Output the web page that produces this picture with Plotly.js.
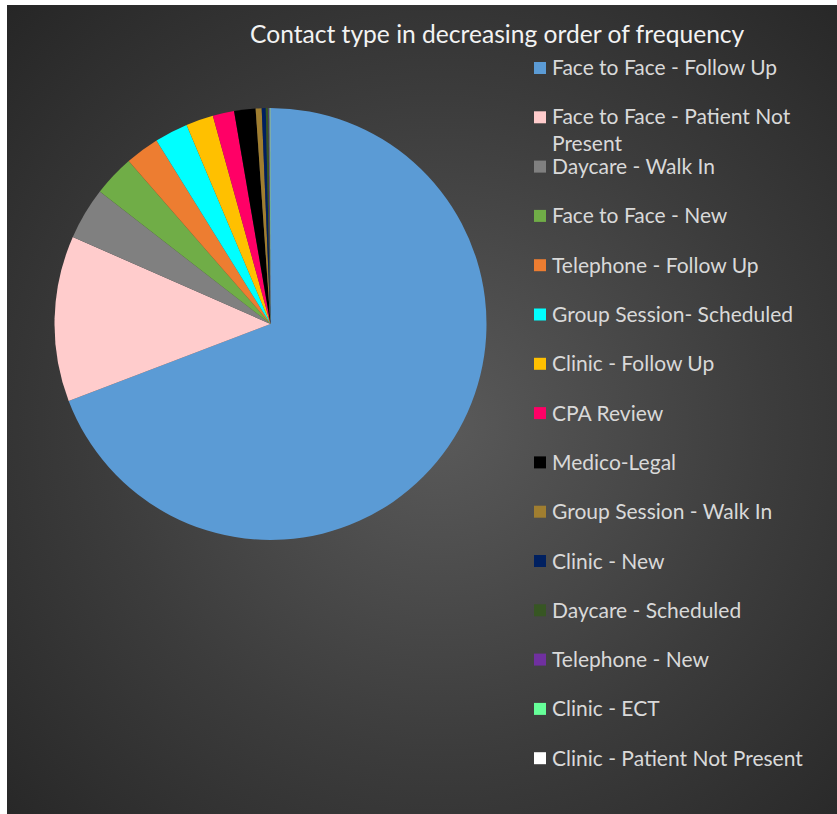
<!DOCTYPE html>
<html>
<head>
<meta charset="utf-8">
<script src="https://cdn.plot.ly/plotly-3.0.1.min.js"></script>
<style>
  html, body { margin: 0; padding: 0; background: #ffffff; }
  #bg { position: absolute; left: 7px; top: 5px; width: 830px; height: 809px;
        background: radial-gradient(ellipse farthest-corner at 52% 52%, #5a5a5a 0%, #3c3c3c 55%, #262626 100%); }
  #chart { position: absolute; left: 0; top: 0; width: 837px; height: 814px; }
</style>
</head>
<body>
<div id="bg"></div>
<div id="chart"></div>
<script>
// Categories (legend order = slice order, clockwise from 12 o'clock)
const labels = [
  "Face to Face - Follow Up",
  "Face to Face - Patient Not Present",
  "Daycare - Walk In",
  "Face to Face - New",
  "Telephone - Follow Up",
  "Group Session- Scheduled",
  "Clinic - Follow Up",
  "CPA Review",
  "Medico-Legal",
  "Group Session - Walk In",
  "Clinic - New",
  "Daycare - Scheduled",
  "Telephone - New",
  "Clinic - ECT",
  "Clinic - Patient Not Present"
];
// Legend display text (long label wraps as in the original)
const legendText = [
  "Face to Face - Follow Up",
  "Face to Face - Patient Not<br>Present",
  "Daycare - Walk In",
  "Face to Face - New",
  "Telephone - Follow Up",
  "Group Session- Scheduled",
  "Clinic - Follow Up",
  "CPA Review",
  "Medico-Legal",
  "Group Session - Walk In",
  "Clinic - New",
  "Daycare - Scheduled",
  "Telephone - New",
  "Clinic - ECT",
  "Clinic - Patient Not Present"
];
// Estimated share of contacts (%)
const values = [69.2, 12.4, 3.9, 3.1, 2.55, 2.5, 2.05, 1.6, 1.6, 0.45, 0.3, 0.2, 0.08, 0.05, 0.02];
const colors = [
  "#5B9BD5", "#FFCCCC", "#808080", "#70AD47", "#ED7D31",
  "#00FFFF", "#FFC000", "#FF0066", "#000000", "#A07E30",
  "#002060", "#375623", "#7030A0", "#66FF99", "#FFFFFF"
];

const W = 837, H = 814;
const px = x => x / W;
const py = y => 1 - y / H;

const annotations = [{
  text: "Contact type in decreasing order of frequency",
  xref: "paper", yref: "paper", x: px(497), y: py(34),
  xanchor: "center", yanchor: "middle", showarrow: false,
  font: { family: "Lato, 'Open Sans', sans-serif", size: 24.6, color: "#F2F2F2" }
}];
const shapes = [];
const rowStart = 67, rowGap = 49.3, fs = 21, lineH = 26;
labels.forEach((lab, i) => {
  const yc = rowStart + i * rowGap;
  const nLines = legendText[i].split("<br>").length;
  annotations.push({
    text: legendText[i], xref: "paper", yref: "paper",
    x: px(550), y: py(yc + (nLines - 1) * lineH / 2), xanchor: "left", yanchor: "middle",
    align: "left", showarrow: false,
    font: { family: "Lato, 'Open Sans', sans-serif", size: fs, color: "#D9D9D9" }
  });
  shapes.push({
    type: "rect", xref: "paper", yref: "paper",
    x0: px(534), x1: px(546), y0: py(yc + 7), y1: py(yc - 5),
    fillcolor: colors[i], line: { width: 0 }
  });
});

const data = [{
  type: "pie",
  labels: labels,
  values: values,
  sort: false,
  direction: "clockwise",
  rotation: 0,
  textinfo: "none",
  hoverinfo: "label+percent",
  showlegend: false,
  marker: { colors: colors, line: { width: 0 } },
  domain: { x: [px(54.5), px(486.5)], y: [py(540), py(108)] }
}];

const layout = {
  width: W, height: H,
  margin: { l: 0, r: 0, t: 0, b: 0 },
  paper_bgcolor: "rgba(0,0,0,0)",
  plot_bgcolor: "rgba(0,0,0,0)",
  showlegend: false,
  annotations: annotations,
  shapes: shapes
};

Plotly.newPlot("chart", data, layout, { displayModeBar: false, staticPlot: true });
</script>
</body>
</html>
